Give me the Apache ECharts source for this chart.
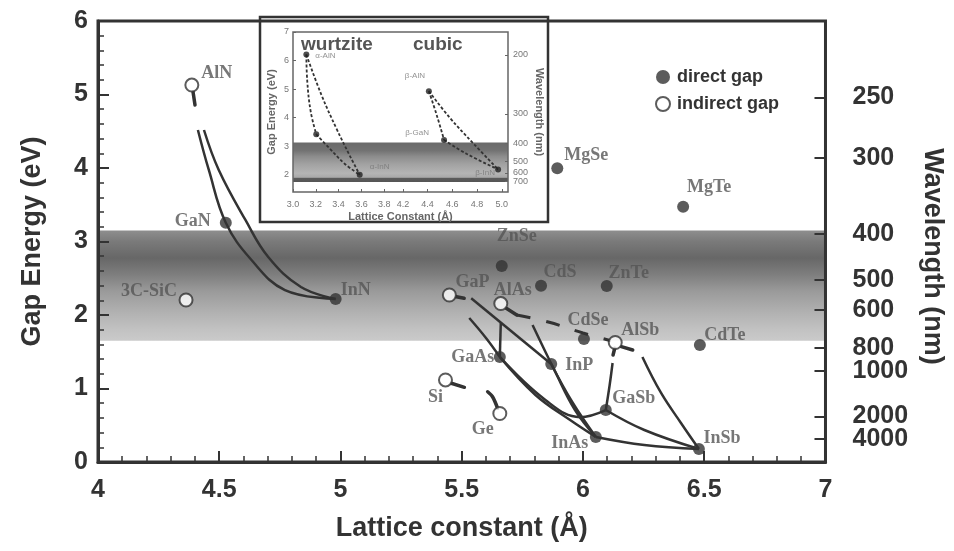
<!DOCTYPE html>
<html>
<head>
<meta charset="utf-8">
<script src="https://cdn.jsdelivr.net/npm/echarts@6/dist/echarts.min.js"></script>
<style>
  html, body { margin: 0; padding: 0; background: #fff; }
  #chart { width: 954px; height: 551px; }
</style>
</head>
<body>
<div id="chart"></div>
<script>
// 主图: 晶格常数 (Å) vs 禁带宽度 (eV)
const directNames = ['GaN', 'InN', 'ZnSe', 'CdS', 'ZnTe', 'CdSe', 'CdTe', 'MgSe', 'MgTe', 'GaAs', 'InP', 'GaSb', 'InAs', 'InSb']
const directX = [4.527, 4.980, 5.665, 5.827, 6.098, 6.004, 6.482, 5.894, 6.413, 5.657, 5.869, 6.094, 6.053, 6.478]
const directY = [3.256, 2.218, 2.667, 2.399, 2.395, 1.673, 1.592, 3.996, 3.473, 1.429, 1.333, 0.707, 0.340, 0.177]

const indirectNames = ['AlN', '3C-SiC', 'GaP', 'AlAs', 'AlSb', 'Si', 'Ge']
const indirectX = [4.387, 4.363, 5.449, 5.661, 6.133, 5.433, 5.657]
const indirectY = [5.129, 2.204, 2.272, 2.156, 1.626, 1.116, 0.660]

// 三元合金曲线 (实线)
const curveAlNGaNInN = [[4.412, 4.517], [4.457, 3.973], [4.527, 3.256], [4.633, 2.748], [4.771, 2.340], [4.980, 2.218]]
const curveAlNInN = [[4.437, 4.517], [4.498, 3.973], [4.608, 3.293], [4.702, 2.789], [4.837, 2.381], [4.980, 2.218]]
const curveGaPInP = [[5.539, 2.227], [5.869, 1.333]]
const curveInPInAs = [[5.869, 1.333], [5.955, 0.820], [6.053, 0.340]]
const curveAlAsInAs = [[5.792, 1.864], [5.886, 1.224], [5.967, 0.707], [6.053, 0.340]]
const curveAlAsGaAs = [[5.661, 1.891], [5.657, 1.429]]
const curveGaPGaAs = [[5.531, 1.959], [5.600, 1.687], [5.657, 1.429]]
const curveGaAsInAs = [[5.657, 1.429], [5.804, 0.912], [5.947, 0.571], [6.053, 0.340]]
const curveGaAsGaSb = [[5.657, 1.429], [5.845, 0.844], [5.988, 0.610], [6.094, 0.707]]
const curveAlSbGaSb = [[6.122, 1.347], [6.110, 1.048], [6.094, 0.707]]
const curveGaSbInSb = [[6.094, 0.707], [6.253, 0.435], [6.478, 0.177]]
const curveInAsInSb = [[6.053, 0.340], [6.253, 0.231], [6.478, 0.177]]
const curveAlSbInSb = [[6.245, 1.429], [6.322, 0.939], [6.404, 0.531], [6.478, 0.177]]

// 间接带隙短线
const stubAlN = [[4.392, 5.034], [4.400, 4.857]]
const stubGaP = [[5.478, 2.249], [5.510, 2.227]]
const stubAlAs = [[5.682, 2.095], [5.727, 2.000]]
const stubAlSbA = [[6.158, 1.569], [6.205, 1.524]]
const stubAlSbB = [[6.131, 1.547], [6.124, 1.456]]
const stubSi = [[5.457, 1.071], [5.511, 1.016]]
const stubGe = [[5.648, 0.731], [5.627, 0.888], [5.607, 0.956]]
const dashAlAsAlSb = [[5.727, 2.000], [5.857, 1.905], [6.000, 1.755], [6.115, 1.650]]

const visibleBand = [1.65, 3.15]
const wavelengthTicks = [250, 300, 400, 500, 600, 800, 1000, 2000, 4000]

// 插图: 纤锌矿 / 闪锌矿 氮化物
const wzNames = ['α-AlN', 'α-GaN', 'α-InN']
const wzX = [3.117, 3.204, 3.585]
const wzY = [6.21, 3.42, 2.00]
const wzAlNGaN = [[3.117, 6.21], [3.125, 5.28], [3.155, 4.22], [3.204, 3.42]]
const wzAlNInN = [[3.117, 6.21], [3.248, 4.81], [3.380, 3.63], [3.497, 2.68], [3.585, 2.00]]
const wzGaNInN = [[3.204, 3.42], [3.322, 2.92], [3.453, 2.39], [3.585, 2.00]]

const zbNames = ['β-AlN', 'β-GaN', 'β-InN']
const zbX = [4.41, 4.533, 4.97]
const zbY = [4.93, 3.22, 2.19]
const zbAlNGaN = [[4.41, 4.93], [4.473, 4.10], [4.533, 3.22]]
const zbAlNInN = [[4.41, 4.93], [4.581, 3.99], [4.770, 3.10], [4.97, 2.19]]
const zbGaNInN = [[4.533, 3.22], [4.714, 2.74], [4.97, 2.19]]

const insetBand = [1.75, 3.13]
const insetXTicksWz = [3.0, 3.2, 3.4, 3.6, 3.8]
const insetXTicksZb = [4.2, 4.4, 4.6, 4.8, 5.0]
const insetYTicks = [2, 3, 4, 5, 6, 7]
const insetWavelengthTicks = [200, 300, 400, 500, 600, 700]

// ---- 样式 ----
const SANS = '"Liberation Sans", Arial, sans-serif'
const SERIF = '"Liberation Serif", "DejaVu Serif", serif'
const INK = '#333'
const HC = 1240 // eV·nm

// 标签相对点中心的偏移
const labelOffset = {
  AlN: [25, -12], GaN: [-33, -1], InN: [20, -9], '3C-SiC': [-37, -9], GaP: [23, -13],
  AlAs: [12, -13], ZnSe: [15, -30], CdS: [19, -13], ZnTe: [22, -13], CdSe: [4, -19],
  AlSb: [25, -12], CdTe: [25, -10], MgSe: [29, -13], MgTe: [26, -19], GaAs: [-27, 0],
  InP: [28, 1], Si: [-10, 17], Ge: [-17, 16], GaSb: [28, -12], InAs: [-26, 6], InSb: [23, -11],
  'α-AlN': [19, 1], 'α-GaN': [0, 0], 'α-InN': [20, -8], 'β-AlN': [-14, -15], 'β-GaN': [-27, -7], 'β-InN': [-13, 3],
}
const hiddenLabels = ['α-GaN']

const bandGrad = {
  type: 'linear', x: 0, y: 0, x2: 0, y2: 1,
  colorStops: [
    { offset: 0, color: '#8e8e8e' }, { offset: 0.1, color: '#7a7a7a' },
    { offset: 0.25, color: '#676767' }, { offset: 0.4, color: '#7e7e7e' },
    { offset: 0.55, color: '#9a9a9a' }, { offset: 0.75, color: '#b2b2b2' },
    { offset: 0.9, color: '#c2c2c2' }, { offset: 1, color: '#cacaca' },
  ],
}
const insetBandGrad = {
  type: 'linear', x: 0, y: 0, x2: 0, y2: 1,
  colorStops: [
    { offset: 0, color: '#6a6a6a' }, { offset: 0.2, color: '#727272' },
    { offset: 0.35, color: '#8c8c8c' }, { offset: 0.55, color: '#a2a2a2' },
    { offset: 0.78, color: '#b4b4b4' }, { offset: 0.88, color: '#a8a8a8' },
    { offset: 0.91, color: '#5a5a5a' }, { offset: 1, color: '#555' },
  ],
}

function pointData(names, xs, ys) {
  return names.map((n, i) => ({
    name: n,
    value: [xs[i], ys[i]],
    label: { show: !hiddenLabels.includes(n), offset: labelOffset[n] || [0, 0] },
  }))
}

function curve(data, extra) {
  return Object.assign({
    type: 'line', data, smooth: 0.4, symbol: 'none', silent: true, z: 3,
    xAxisIndex: 0, yAxisIndex: 0,
    lineStyle: { color: INK, width: 2.5 },
  }, extra)
}

const series = []

// 可见光带
series.push({
  type: 'line', data: [], z: 1, xAxisIndex: 0, yAxisIndex: 0, silent: true,
  markArea: { silent: true, itemStyle: { color: bandGrad }, data: [[{ yAxis: visibleBand[0] }, { yAxis: visibleBand[1] }]] },
})

const solidCurves = [curveAlNGaNInN, curveAlNInN, curveGaPInP, curveInPInAs, curveAlAsInAs, curveAlAsGaAs,
  curveGaPGaAs, curveGaAsInAs, curveGaAsGaSb, curveAlSbGaSb, curveGaSbInSb, curveInAsInSb, curveAlSbInSb]
solidCurves.forEach((c) => series.push(curve(c)))

const stubs = [stubAlN, stubGaP, stubAlAs, stubAlSbA, stubAlSbB, stubSi, stubGe]
stubs.forEach((c) => series.push(curve(c, { smooth: 0.3, lineStyle: { color: INK, width: 3.5, cap: 'round' } })))
series.push(curve(dashAlAsAlSb, { lineStyle: { color: INK, width: 3, type: [14, 16] } }))

const pointLabel = {
  position: 'inside', fontFamily: SERIF, fontWeight: 'bold', fontSize: 18, color: '#555', formatter: '{b}',
}
series.push({
  name: 'direct gap', type: 'scatter', xAxisIndex: 0, yAxisIndex: 0, z: 5,
  symbol: 'circle', symbolSize: 12, itemStyle: { color: INK },
  label: pointLabel,
  data: pointData(directNames, directX, directY),
})
series.push({
  name: 'indirect gap', type: 'scatter', xAxisIndex: 0, yAxisIndex: 0, z: 6,
  symbol: 'circle', symbolSize: 13, itemStyle: { color: '#fff', borderColor: INK, borderWidth: 2 },
  label: pointLabel,
  data: pointData(indirectNames, indirectX, indirectY),
})

// 插图
const insetLabel = { position: 'inside', fontFamily: SANS, fontSize: 8, color: '#777', formatter: '{b}' }
function insetGroup(xi, yi, curves, names, xs, ys) {
  series.push({
    type: 'line', data: [], z: 1, xAxisIndex: xi, yAxisIndex: yi, silent: true,
    markArea: { silent: true, itemStyle: { color: insetBandGrad }, data: [[{ yAxis: insetBand[0] }, { yAxis: insetBand[1] }]] },
  })
  curves.forEach((c) => series.push(curve(c, {
    xAxisIndex: xi, yAxisIndex: yi, lineStyle: { color: INK, width: 1.8, type: [3, 2] },
  })))
  series.push({
    type: 'scatter', xAxisIndex: xi, yAxisIndex: yi, z: 5, symbolSize: 6,
    itemStyle: { color: '#222' }, label: insetLabel,
    data: pointData(names, xs, ys),
  })
}
// yAxis 6 = 插图左 (纤锌矿), 7 = 插图右 (闪锌矿)
insetGroup(3, 6, [wzAlNGaN, wzAlNInN, wzGaNInN], wzNames, wzX, wzY)
insetGroup(4, 7, [zbAlNGaN, zbAlNInN, zbGaNInN], zbNames, zbX, zbY)

const bigLabel = { fontFamily: SANS, fontWeight: 'bold', fontSize: 25, color: INK }
const bigName = { fontFamily: SANS, fontWeight: 'bold', fontSize: 27, color: INK }
const smallLabel = { fontFamily: SANS, fontSize: 9, color: '#777' }
const smallName = { fontFamily: SANS, fontWeight: 'bold', fontSize: 11, color: '#666' }
const off = { show: false }

// 波长刻度 -> 能量位置; 最长波长单独放一条轴, 避免重叠隐藏
const toEnergy = (list) => list.map((w) => HC / w).sort((a, b) => a - b)
const wlFormatter = (v) => String(Math.round(HC / v))
const wlMain = toEnergy(wavelengthTicks.slice(0, -1))
const wlLast = toEnergy(wavelengthTicks.slice(-1))
const insetWlMain = toEnergy(insetWavelengthTicks.slice(0, -1))
const insetWlLast = toEnergy(insetWavelengthTicks.slice(-1))

function wlAxis(gridIndex, values, label, tick, min, max, extra) {
  return Object.assign({
    gridIndex, type: 'value', position: 'right', min, max, z: 4,
    axisLine: off, splitLine: off,
    axisTick: Object.assign({ inside: true, customValues: values }, tick),
    axisLabel: Object.assign({}, label, { customValues: values, showMinLabel: true, showMaxLabel: true, formatter: wlFormatter }),
  }, extra)
}

const chart = echarts.init(document.getElementById('chart'))
chart.setOption({
  animation: false,
  backgroundColor: '#fff',
  title: [
    { text: 'wurtzite', left: 301, top: 35, padding: 0, textStyle: { fontFamily: SANS, fontWeight: 'bold', fontSize: 19, color: '#555' } },
    { text: 'cubic', left: 413, top: 35, padding: 0, textStyle: { fontFamily: SANS, fontWeight: 'bold', fontSize: 19, color: '#555' } },
  ],
  legend: {
    left: 650, top: 63, orient: 'vertical', itemWidth: 14, itemHeight: 14, itemGap: 9,
    textStyle: { fontFamily: SANS, fontWeight: 'bold', fontSize: 18, color: INK, lineHeight: 18, padding: [0, 0, 0, 2] },
    data: ['direct gap', 'indirect gap'],
  },
  grid: [
    { left: 98, top: 21, width: 735, height: 441, show: true, z: 10, borderColor: INK, borderWidth: 3, backgroundColor: 'transparent' },
    { left: 260, top: 17, width: 288, height: 205, show: true, borderColor: INK, borderWidth: 2.5, backgroundColor: '#fff' },
    { left: 293, top: 32, width: 215, height: 160, show: true, z: 8, borderColor: '#666', borderWidth: 1.5, backgroundColor: 'transparent' },
    { left: 293, top: 32, width: 100, height: 160 },
    { left: 393, top: 32, width: 115, height: 160 },
  ],
  xAxis: [
    {
      gridIndex: 0, type: 'value', min: 4, max: 7, interval: 0.5, z: 4,
      axisLine: { lineStyle: { color: INK, width: 3 } },
      axisTick: { inside: true, length: 11, lineStyle: { color: INK, width: 2 } },
      minorTick: { show: true, splitNumber: 5, length: 6, lineStyle: { color: INK, width: 1.5 } },
      axisLabel: Object.assign({ margin: 16 }, bigLabel),
      splitLine: off,
      name: 'Lattice constant (Å)', nameLocation: 'middle', nameGap: 53, nameTextStyle: bigName,
    },
    { gridIndex: 1, type: 'value', show: false },
    {
      gridIndex: 2, type: 'value', axisLine: off, axisTick: off, axisLabel: off, splitLine: off,
      name: 'Lattice Constant (Å)', nameLocation: 'middle', nameGap: 19, nameTextStyle: smallName,
    },
    {
      gridIndex: 3, type: 'value', min: 3.0, max: 3.877, axisLine: off, splitLine: off,
      axisTick: { inside: true, length: 3, customValues: insetXTicksWz, lineStyle: { color: '#666' } },
      axisLabel: Object.assign({ margin: 8, customValues: insetXTicksWz, showMinLabel: true, showMaxLabel: true, formatter: (v) => v.toFixed(1) }, smallLabel),
    },
    {
      gridIndex: 4, type: 'value', min: 4.12, max: 5.05, axisLine: off, splitLine: off,
      axisTick: { inside: true, length: 3, customValues: insetXTicksZb, lineStyle: { color: '#666' } },
      axisLabel: Object.assign({ margin: 8, customValues: insetXTicksZb, showMinLabel: true, showMaxLabel: true, formatter: (v) => v.toFixed(1) }, smallLabel),
    },
  ],
  yAxis: [
    {
      gridIndex: 0, type: 'value', min: 0, max: 6, interval: 1, z: 4,
      axisLine: { lineStyle: { color: INK, width: 3 } },
      axisTick: { inside: true, length: 11, lineStyle: { color: INK, width: 2 } },
      minorTick: { show: true, splitNumber: 5, length: 6, lineStyle: { color: INK, width: 1.5 } },
      axisLabel: Object.assign({ margin: 10 }, bigLabel),
      splitLine: off,
      name: 'Gap Energy (eV)', nameLocation: 'middle', nameGap: 52, nameRotate: 90, nameTextStyle: bigName,
    },
    wlAxis(0, wlMain, Object.assign({ margin: 27 }, bigLabel), { length: 11, lineStyle: { color: INK, width: 2 } }, 0, 6, {
      name: 'Wavelength (nm)', nameLocation: 'middle', nameGap: 92, nameRotate: -90,
      nameTextStyle: Object.assign({ padding: [0, 0, 0, 30] }, bigName),
    }),
    wlAxis(0, wlLast, Object.assign({ margin: 27 }, bigLabel), { length: 11, lineStyle: { color: INK, width: 2 } }, 0, 6),
    { gridIndex: 1, type: 'value', show: false },
    {
      gridIndex: 2, type: 'value', axisLine: off, axisTick: off, axisLabel: off, splitLine: off,
      name: 'Gap Energy (eV)', nameLocation: 'middle', nameGap: 16, nameRotate: 90, nameTextStyle: smallName,
    },
    {
      gridIndex: 2, type: 'value', position: 'right', axisLine: off, axisTick: off, axisLabel: off, splitLine: off,
      name: 'Wavelength (nm)', nameLocation: 'middle', nameGap: 26, nameRotate: -90, nameTextStyle: smallName,
    },
    {
      gridIndex: 3, type: 'value', min: 1.4, max: 7, axisLine: off, splitLine: off,
      axisTick: { inside: true, length: 3, customValues: insetYTicks, lineStyle: { color: '#666' } },
      axisLabel: Object.assign({ margin: 4, customValues: insetYTicks, showMinLabel: true, showMaxLabel: true }, smallLabel),
    },
    wlAxis(4, insetWlMain, Object.assign({ margin: 5 }, smallLabel), { length: 3, lineStyle: { color: '#666' } }, 1.4, 7),
    wlAxis(4, insetWlLast, Object.assign({ margin: 5 }, smallLabel), { length: 3, lineStyle: { color: '#666' } }, 1.4, 7),
  ],
  series,
})
</script>
</body>
</html>
